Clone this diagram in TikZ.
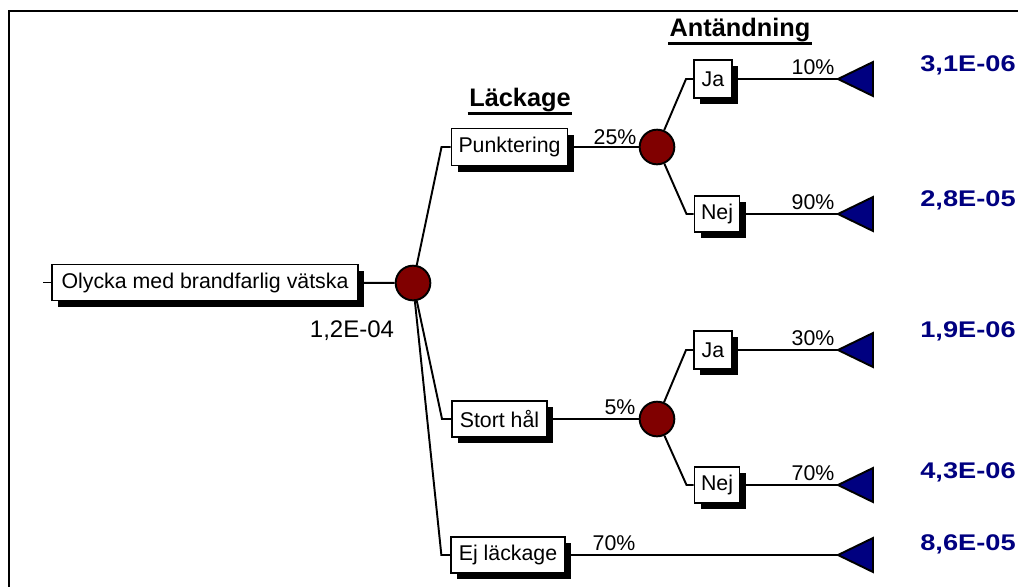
\documentclass[tikz,border=0pt]{standalone}
\usepackage{fontspec}
\setmainfont{Liberation Sans}
\newfontfamily\valuefont[FakeStretch=1.2]{Liberation Sans}
\usetikzlibrary{shadows}

\definecolor{chancered}{HTML}{800000}
\definecolor{endblue}{HTML}{000080}

\tikzset{
  link/.style={line width=1.45pt},
  event/.style={draw, line width=1.45pt, fill=white, inner sep=2pt,
    minimum height=27pt, font=\fontsize{16}{18}\selectfont,
    drop shadow={shadow xshift=4.5pt, shadow yshift=-4.5pt, fill=black, opacity=1}},
  chance/.style={circle, draw, line width=1.45pt, fill=chancered, minimum size=26pt, inner sep=0pt},
  endtri/.style={draw, line width=1.45pt, fill=endblue, line join=miter},
  pct/.style={font=\fontsize{16}{18}\selectfont, inner sep=0pt},
  result/.style={font=\valuefont\bfseries\fontsize{17}{20}\selectfont, text=endblue, inner sep=0pt},
  head/.style={font=\bfseries\fontsize{19}{22}\selectfont, inner sep=1pt}
}

\begin{document}
\begin{tikzpicture}[x=0.75pt, y=-0.75pt]
  \useasboundingbox (0,0) rectangle (1018,586);
  \draw[line width=1.8pt] (9,620) -- (9,11) -- (1040,11);

  % headings
  \node[head] (lackage) at (520,100) {Läckage};
  \draw[line width=1.6pt] (lackage.south west) -- (lackage.south east);
  \node[head] (antand) at (740,30) {Antändning};
  \draw[line width=1.6pt] (antand.south west) -- (antand.south east);

  % events
  \node[event, minimum width=229.5pt] (olycka) at (205,282.5) {Olycka med brandfarlig vätska};
  \node[chance] (c0) at (413,283) {};
  \node[pct, font=\fontsize{18}{20}\selectfont] (p0) at (352,331) {1,2E-04};

  \node[event, minimum width=87pt, minimum height=27.75pt] (punkt) at (509.5,147) {Punktering};
  \node[event, minimum width=71.25pt] (stort) at (499.5,419) {Stort hål};
  \node[event, minimum width=85pt] (ej) at (508,555) {Ej läckage};

  \node[chance] (c1) at (657,147) {};
  \node[chance] (c2) at (657,419) {};

  \node[event, minimum width=28.5pt, minimum height=28.5pt] (ja1) at (713,79) {Ja};
  \node[event, minimum width=33.75pt] (nej1) at (717,214) {Nej};
  \node[event, minimum width=28.5pt, minimum height=28.5pt] (ja2) at (713,350) {Ja};
  \node[event, minimum width=33.75pt] (nej2) at (717,485) {Nej};

  % end points
  \foreach \n/\y in {1/79,2/214,3/350,4/485,5/555} {
    \coordinate (e\n) at (838,\y);
    \draw[endtri] (e\n) -- ++(35,-17) -- ++(0,34) -- cycle;
  }

  % connectors
  \draw[link] (olycka.west) -- ++(-6pt,0);
  \draw[link] (olycka) -- (c0);
  \foreach \b in {punkt,stort,ej}
    \draw[link] (c0) -- ([xshift=-6.75pt]\b.west) -- (\b.west);
  \draw[link] (punkt) -- (c1);
  \draw[link] (stort) -- (c2);
  \draw[link] (c1) -- ([xshift=-5.25pt]ja1.west) -- (ja1.west);
  \draw[link] (c1) -- ([xshift=-5.25pt]nej1.west) -- (nej1.west);
  \draw[link] (c2) -- ([xshift=-5.25pt]ja2.west) -- (ja2.west);
  \draw[link] (c2) -- ([xshift=-5.25pt]nej2.west) -- (nej2.west);
  \draw[link] (ja1) -- (e1);
  \draw[link] (nej1) -- (e2);
  \draw[link] (ja2) -- (e3);
  \draw[link] (nej2) -- (e4);
  \draw[link] (ej) -- (e5);

  % probabilities
  \node[pct] at (615,137) {25\%};
  \node[pct] at (620,407) {5\%};
  \node[pct] at (813,67) {10\%};
  \node[pct] at (813,202) {90\%};
  \node[pct] at (813,338) {30\%};
  \node[pct] at (813,473) {70\%};
  \node[pct] at (614,543) {70\%};

  % results
  \node[result] (r1) at (968,65) {3,1E-06};
  \node[result] (r2) at (968,200) {2,8E-05};
  \node[result] (r3) at (968,331) {1,9E-06};
  \node[result] (r4) at (968,472) {4,3E-06};
  \node[result] (r5) at (968,544) {8,6E-05};
\end{tikzpicture}
\end{document}
